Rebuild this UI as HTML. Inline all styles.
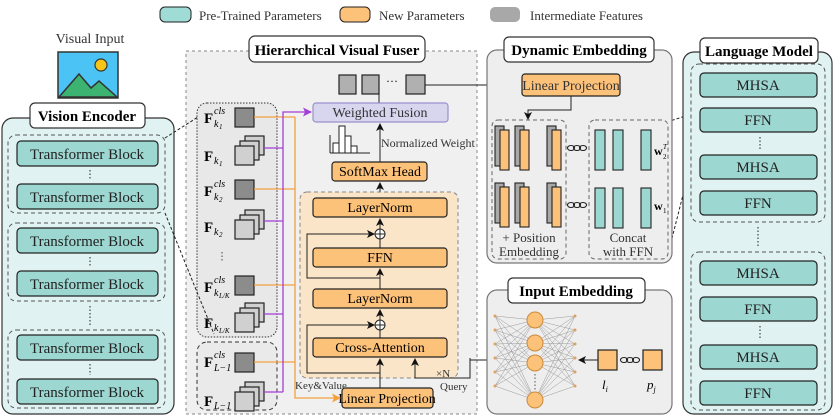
<!DOCTYPE html>
<html><head><meta charset="utf-8"><style>
html,body{margin:0;padding:0;background:#fff;}
svg{display:block;}
svg text{font-family:"Liberation Serif","Times New Roman",serif;}
</style></head><body>
<svg width="836" height="419" viewBox="0 0 836 419" xmlns="http://www.w3.org/2000/svg" font-family="Liberation Serif, serif">
<defs>
<marker id="ak" markerWidth="8" markerHeight="8" refX="7" refY="4" orient="auto" markerUnits="userSpaceOnUse"><path d="M0,0 L8,4 L0,8 L2,4 z" fill="#111"/></marker>
<marker id="ap" markerWidth="9" markerHeight="9" refX="8" refY="4.5" orient="auto" markerUnits="userSpaceOnUse"><path d="M0,0 L9,4.5 L0,9 L2,4.5 z" fill="#a23fd6"/></marker>
<marker id="ao" markerWidth="9" markerHeight="9" refX="8" refY="4.5" orient="auto" markerUnits="userSpaceOnUse"><path d="M0,0 L9,4.5 L0,9 L2,4.5 z" fill="#f4a040"/></marker>
</defs>

<!-- legend -->
<rect x="160" y="7" width="31" height="15" rx="5" fill="#9fdcd6" stroke="#222"/>
<text x="199" y="20" font-size="13" fill="#333">Pre-Trained Parameters</text>
<rect x="340" y="7" width="30" height="15" rx="5" fill="#fdc27a" stroke="#222"/>
<text x="379" y="20" font-size="13" fill="#333">New Parameters</text>
<rect x="490" y="7" width="30" height="15" rx="5" fill="#a8a8a8"/>
<text x="530" y="20" font-size="13" fill="#333">Intermediate Features</text>

<!-- Visual input -->
<text x="90" y="43" font-size="14" text-anchor="middle" fill="#333">Visual Input</text>
<rect x="58" y="52" width="60" height="46" fill="#4cc3f5" stroke="#333" stroke-width="1.5"/>
<path d="M59,97 L79,74 L91,88 L99,81 L117,97 z" fill="#3cb371" stroke="#333" stroke-width="1.5"/>
<circle cx="101" cy="65" r="6" fill="#f5c518" stroke="#333" stroke-width="1.2"/>

<!-- Vision encoder -->
<rect x="2" y="118" width="172" height="296" rx="11" fill="#e0f3f2" stroke="#333" stroke-width="1.2"/>
<rect x="30" y="103" width="115" height="25" rx="5" fill="#fff" stroke="#333" stroke-width="1.2"/>
<text x="87" y="121" font-size="15" font-weight="bold" text-anchor="middle">Vision Encoder</text>
<g stroke="#555" stroke-dasharray="4,3" fill="none">
<rect x="8" y="135" width="157" height="78" rx="8"/>
<rect x="8" y="223" width="157" height="78" rx="8"/>
<rect x="8" y="330" width="157" height="78" rx="8"/>
</g>
<g fill="#9dd7d1" stroke="#222" stroke-width="1.2">
<rect x="17" y="141" width="141" height="25" rx="4"/>
<rect x="17" y="184" width="141" height="25" rx="4"/>
<rect x="17" y="228" width="141" height="25" rx="4"/>
<rect x="17" y="271" width="141" height="25" rx="4"/>
<rect x="17" y="335" width="141" height="25" rx="4"/>
<rect x="17" y="379" width="141" height="25" rx="4"/>
</g>
<g font-size="15" text-anchor="middle" fill="#222">
<text x="87" y="159">Transformer Block</text>
<text x="87" y="202">Transformer Block</text>
<text x="87" y="246">Transformer Block</text>
<text x="87" y="289">Transformer Block</text>
<text x="87" y="353">Transformer Block</text>
<text x="87" y="397">Transformer Block</text>
</g>
<g stroke="#444" stroke-dasharray="1.5,2" stroke-width="1.2">
<line x1="90" y1="170" x2="90" y2="180"/><line x1="90" y1="257" x2="90" y2="267"/>
<line x1="90" y1="306" x2="90" y2="325"/><line x1="90" y1="364" x2="90" y2="375"/>
</g>

<!-- HVF -->
<rect x="186" y="51" width="291" height="363" fill="#f0f0f0" stroke="#888" stroke-dasharray="3,3"/>
<rect x="249" y="36" width="176" height="26" rx="6" fill="#fff" stroke="#333" stroke-width="1.2"/>
<text x="337" y="55" font-size="15" font-weight="bold" text-anchor="middle">Hierarchical Visual Fuser</text>
<g fill="#b0b0b0" stroke="#222" stroke-width="1.2">
<rect x="339" y="75" width="17" height="19"/><rect x="362" y="75" width="17" height="19"/><rect x="406" y="75" width="19" height="19"/>
</g>
<text x="392" y="85" font-size="12" text-anchor="middle">···</text>
<line x1="379" y1="94" x2="379" y2="103" stroke="#222"/>
<line x1="425" y1="85" x2="520" y2="85" stroke="#222" marker-end="url(#ak)"/>
<rect x="313" y="103" width="135" height="19" rx="3" fill="#d8d5ef" stroke="#9a90cc" stroke-width="1.2"/>
<text x="380" y="117" font-size="14" text-anchor="middle" fill="#333">Weighted Fusion</text>
<!-- histogram -->
<g fill="#fff" stroke="#222" stroke-width="1">
<rect x="333" y="143" width="6" height="10"/><rect x="339" y="126" width="6" height="27"/><rect x="345" y="136" width="6" height="17"/><rect x="351" y="146" width="6" height="7"/>
</g>
<line x1="330" y1="153" x2="370" y2="153" stroke="#222"/><line x1="330" y1="135" x2="330" y2="153" stroke="#222"/>
<text x="381" y="147" font-size="12" fill="#333">Normalized Weight</text>
<line x1="380" y1="162" x2="380" y2="124" stroke="#222" marker-end="url(#ak)"/>
<rect x="332" y="162" width="95" height="19" rx="3" fill="#fdc27a" stroke="#222" stroke-width="1.2"/>
<text x="380" y="176" font-size="14" text-anchor="middle">SoftMax Head</text>
<line x1="380" y1="198" x2="380" y2="183" stroke="#222" marker-end="url(#ak)"/>
<rect x="300" y="192" width="158" height="186" rx="7" fill="#fbe5c8" stroke="#888" stroke-dasharray="4,3"/>
<g fill="#fdc27a" stroke="#222" stroke-width="1.2">
<rect x="313" y="198" width="134" height="19" rx="3"/>
<rect x="313" y="248" width="134" height="19" rx="3"/>
<rect x="313" y="289" width="134" height="19" rx="3"/>
<rect x="313" y="338" width="134" height="19" rx="3"/>
</g>
<g font-size="14" text-anchor="middle">
<text x="380" y="212">LayerNorm</text><text x="380" y="262">FFN</text>
<text x="380" y="303">LayerNorm</text><text x="380" y="352">Cross-Attention</text>
</g>
<g stroke="#222" fill="none">
<line x1="380" y1="229" x2="380" y2="219" marker-end="url(#ak)"/>
<line x1="380" y1="248" x2="380" y2="239"/>
<line x1="380" y1="289" x2="380" y2="269" marker-end="url(#ak)"/>
<line x1="380" y1="320" x2="380" y2="310" marker-end="url(#ak)"/>
<line x1="380" y1="338" x2="380" y2="330"/>
<polyline points="380,278 307,278 307,234 374,234" marker-end="url(#ak)"/>
<polyline points="380,373 307,373 307,325 374,325" marker-end="url(#ak)"/>
<line x1="380" y1="388" x2="380" y2="359" marker-end="url(#ak)"/>
<polyline points="470,358 470,378 415,378 415,359" marker-end="url(#ak)"/>
<polyline points="470,360 484,360 490,360"/>
</g>
<circle cx="380" cy="234" r="5" fill="#fff" stroke="#222"/><path d="M375,234h10M380,229v10" stroke="#222"/>
<circle cx="380" cy="325" r="5" fill="#fff" stroke="#222"/><path d="M375,325h10M380,320v10" stroke="#222"/>
<text x="436" y="377" font-size="11" fill="#333">×N</text>
<text x="440" y="390" font-size="11" fill="#333">Query</text>
<text x="295" y="389" font-size="11" fill="#333">Key&amp;Value</text>
<rect x="342" y="388" width="91" height="20" rx="3" fill="#fdc27a" stroke="#222" stroke-width="1.2"/>
<text x="387" y="403" font-size="14" text-anchor="middle">Linear Projection</text>

<!-- feature groups -->
<rect x="197" y="103" width="80" height="234" rx="10" fill="#e8e8e8" stroke="#333" stroke-dasharray="1.5,1.5"/>
<rect x="197" y="342" width="80" height="68" rx="10" fill="#eaeaea" stroke="#333" stroke-dasharray="4,3"/>
<g fill="#8c8c8c" stroke="#222" stroke-width="1.2">
<rect x="235" y="108" width="19" height="19"/><rect x="235" y="180" width="19" height="19"/>
<rect x="235" y="276" width="19" height="19"/><rect x="235" y="353" width="19" height="19"/>
</g>
<g fill="#d0d0d0" stroke="#222" stroke-width="1.2">
<rect x="245" y="136" width="19" height="19"/><rect x="240" y="141" width="19" height="19"/><rect x="235" y="146" width="19" height="19"/>
<rect x="245" y="210" width="19" height="19"/><rect x="240" y="215" width="19" height="19"/><rect x="235" y="220" width="19" height="19"/>
<rect x="245" y="303" width="19" height="19"/><rect x="240" y="308" width="19" height="19"/><rect x="235" y="313" width="19" height="19"/>
<rect x="245" y="382" width="19" height="19"/><rect x="240" y="387" width="19" height="19"/><rect x="235" y="392" width="19" height="19"/>
</g>
<g font-size="15" font-weight="bold">
<text x="204" y="123">F</text><text x="204" y="161">F</text><text x="204" y="196">F</text><text x="204" y="232">F</text>
<text x="204" y="292">F</text><text x="204" y="328">F</text><text x="204" y="367">F</text><text x="204" y="406">F</text>
</g>
<g font-size="10" font-style="italic">
<text x="214" y="114">cls</text><text x="214" y="127">k</text><text x="219" y="129" font-size="7">1</text>
<text x="214" y="164">k</text><text x="219" y="166" font-size="7">1</text>
<text x="214" y="187">cls</text><text x="214" y="200">k</text><text x="219" y="202" font-size="7">2</text>
<text x="214" y="235">k</text><text x="219" y="237" font-size="7">2</text>
<text x="214" y="283">cls</text><text x="214" y="296">k</text><text x="219" y="298" font-size="7">L/K</text>
<text x="214" y="331">k</text><text x="219" y="333" font-size="7">L/K</text>
<text x="214" y="358">cls</text><text x="214" y="371">L−1</text>
<text x="214" y="409">L−1</text>
</g>
<line x1="222" y1="252" x2="222" y2="262" stroke="#444" stroke-dasharray="1.5,2"/>
<g stroke="#f4a040" stroke-width="1.3" fill="none">
<line x1="254" y1="117" x2="295" y2="117"/><line x1="254" y1="189" x2="295" y2="189"/>
<line x1="254" y1="285" x2="295" y2="285"/><line x1="254" y1="362" x2="295" y2="362"/>
<polyline points="295,117 295,398 340,398" marker-end="url(#ao)"/>
</g>
<g stroke="#a23fd6" stroke-width="1.3" fill="none">
<line x1="264" y1="148" x2="283" y2="148"/><line x1="264" y1="221" x2="283" y2="221"/>
<line x1="264" y1="314" x2="283" y2="314"/><line x1="264" y1="392" x2="283" y2="392"/>
<polyline points="283,392 283,112 311,112" marker-end="url(#ap)"/>
</g>

<!-- connectors -->
<g stroke="#222" stroke-dasharray="3,2" fill="none">
<line x1="165" y1="138" x2="198" y2="117"/><line x1="165" y1="213" x2="214" y2="334"/>
<line x1="667" y1="122" x2="701" y2="111"/><line x1="667" y1="258" x2="701" y2="124"/>
</g>

<!-- Dynamic embedding -->
<rect x="487" y="50" width="185" height="213" rx="10" fill="#eeeeee" stroke="#777" stroke-width="1.2"/>
<rect x="504" y="37" width="150" height="25" rx="5" fill="#fff" stroke="#333" stroke-width="1.2"/>
<text x="579" y="55" font-size="15" font-weight="bold" text-anchor="middle">Dynamic Embedding</text>
<rect x="522" y="74" width="98" height="22" rx="3" fill="#fdc27a" stroke="#222" stroke-width="1.2"/>
<text x="571" y="90" font-size="14" text-anchor="middle" fill="#333">Linear Projection</text>
<polyline points="571,96 571,110 528,110 528,119" fill="none" stroke="#222" marker-end="url(#ak)"/>
<rect x="492" y="120" width="74" height="139" rx="6" fill="none" stroke="#666" stroke-dasharray="4,3"/>
<rect x="589" y="120" width="79" height="139" rx="6" fill="none" stroke="#666" stroke-dasharray="4,3"/>
<g stroke="#222" stroke-width="1.1">
<rect x="495" y="126" width="9" height="40" fill="#a8a8a8"/><rect x="500" y="130" width="9" height="40" fill="#fdc27a"/>
<rect x="515" y="126" width="9" height="40" fill="#a8a8a8"/><rect x="520" y="130" width="9" height="40" fill="#fdc27a"/>
<rect x="547" y="126" width="9" height="40" fill="#a8a8a8"/><rect x="552" y="130" width="9" height="40" fill="#fdc27a"/>
<rect x="495" y="183" width="9" height="40" fill="#a8a8a8"/><rect x="500" y="187" width="9" height="40" fill="#fdc27a"/>
<rect x="515" y="183" width="9" height="40" fill="#a8a8a8"/><rect x="520" y="187" width="9" height="40" fill="#fdc27a"/>
<rect x="547" y="183" width="9" height="40" fill="#a8a8a8"/><rect x="552" y="187" width="9" height="40" fill="#fdc27a"/>
<rect x="595" y="130" width="10" height="40" fill="#9dd7d1"/><rect x="613" y="130" width="10" height="40" fill="#9dd7d1"/><rect x="641" y="130" width="10" height="40" fill="#9dd7d1"/>
<rect x="595" y="188" width="10" height="40" fill="#9dd7d1"/><rect x="613" y="188" width="10" height="40" fill="#9dd7d1"/><rect x="641" y="188" width="10" height="40" fill="#9dd7d1"/>
</g>
<g fill="none" stroke="#222" stroke-width="1.1">
<ellipse cx="571" cy="148" rx="3.5" ry="2.5"/><ellipse cx="577" cy="148" rx="3.5" ry="2.5"/><ellipse cx="583" cy="148" rx="3.5" ry="2.5"/>
<ellipse cx="571" cy="205" rx="3.5" ry="2.5"/><ellipse cx="577" cy="205" rx="3.5" ry="2.5"/><ellipse cx="583" cy="205" rx="3.5" ry="2.5"/>
</g>
<text x="654" y="155" font-size="12" font-weight="bold">w</text><text x="663" y="149" font-size="7" font-style="italic">T</text><text x="663" y="159" font-size="7">2</text>
<text x="654" y="210" font-size="12" font-weight="bold">w</text><text x="663" y="213" font-size="7">1</text>
<g font-size="13" text-anchor="middle" fill="#333">
<text x="529" y="242">+ Position</text><text x="529" y="256">Embedding</text>
<text x="628" y="242">Concat</text><text x="628" y="256">with FFN</text>
</g>

<!-- Input embedding -->
<rect x="487" y="290" width="185" height="124" rx="10" fill="#eeeeee" stroke="#777" stroke-width="1.2"/>
<rect x="508" y="278" width="137" height="25" rx="5" fill="#fff" stroke="#333" stroke-width="1.2"/>
<text x="576" y="296" font-size="15" font-weight="bold" text-anchor="middle">Input Embedding</text>
<g stroke="#999" stroke-width="0.5">
<path d="M495,316L535,320M495,316L535,343M495,316L535,363M495,316L535,400M495,330L535,320M495,330L535,343M495,330L535,363M495,330L535,400M495,344L535,320M495,344L535,343M495,344L535,363M495,344L535,400M495,358L535,320M495,358L535,343M495,358L535,363M495,358L535,400M495,372L535,320M495,372L535,343M495,372L535,363M495,372L535,400M495,386L535,320M495,386L535,343M495,386L535,363M495,386L535,400"/>
<path d="M575,316L535,320M575,316L535,343M575,316L535,363M575,316L535,400M575,330L535,320M575,330L535,343M575,330L535,363M575,330L535,400M575,344L535,320M575,344L535,343M575,344L535,363M575,344L535,400M575,358L535,320M575,358L535,343M575,358L535,363M575,358L535,400M575,372L535,320M575,372L535,343M575,372L535,363M575,372L535,400M575,386L535,320M575,386L535,343M575,386L535,363M575,386L535,400"/>
</g>
<g fill="#fdc27a" stroke="#c98a3a">
<circle cx="535" cy="320" r="8"/><circle cx="535" cy="343" r="8"/><circle cx="535" cy="363" r="8"/><circle cx="535" cy="400" r="8"/>
</g>
<line x1="535" y1="374" x2="535" y2="390" stroke="#555" stroke-dasharray="1.5,2"/>
<g fill="#e0a060"><circle cx="495" cy="316" r="1.5"/><circle cx="495" cy="330" r="1.5"/><circle cx="495" cy="344" r="1.5"/><circle cx="495" cy="358" r="1.5"/><circle cx="495" cy="372" r="1.5"/><circle cx="495" cy="386" r="1.5"/>
<circle cx="575" cy="316" r="1.5"/><circle cx="575" cy="330" r="1.5"/><circle cx="575" cy="344" r="1.5"/><circle cx="575" cy="358" r="1.5"/><circle cx="575" cy="372" r="1.5"/><circle cx="575" cy="386" r="1.5"/></g>
<rect x="598" y="350" width="19" height="20" fill="#fdc27a" stroke="#222" stroke-width="1.2"/>
<rect x="643" y="350" width="19" height="20" fill="#fdc27a" stroke="#222" stroke-width="1.2"/>
<g fill="none" stroke="#222" stroke-width="1.1"><ellipse cx="624" cy="360" rx="3.5" ry="2.5"/><ellipse cx="630" cy="360" rx="3.5" ry="2.5"/><ellipse cx="636" cy="360" rx="3.5" ry="2.5"/></g>
<line x1="598" y1="360" x2="579" y2="360" stroke="#222" marker-end="url(#ak)"/>
<text x="602" y="389" font-size="13" font-style="italic">l<tspan font-size="8" dy="3">i</tspan></text>
<text x="647" y="389" font-size="13" font-style="italic">p<tspan font-size="8" dy="3">j</tspan></text>

<!-- Language model -->
<rect x="683" y="52" width="149" height="362" rx="11" fill="#e0f3f2" stroke="#333" stroke-width="1.2"/>
<rect x="700" y="38" width="118" height="25" rx="5" fill="#fff" stroke="#333" stroke-width="1.2"/>
<text x="759" y="56" font-size="15" font-weight="bold" text-anchor="middle">Language Model</text>
<g stroke="#555" stroke-dasharray="4,3" fill="none">
<rect x="691" y="64" width="134" height="158" rx="8"/><rect x="691" y="252" width="134" height="158" rx="8"/>
</g>
<g fill="#9dd7d1" stroke="#222" stroke-width="1.2">
<rect x="700" y="73" width="117" height="24" rx="4"/><rect x="700" y="108" width="117" height="24" rx="4"/>
<rect x="700" y="155" width="117" height="24" rx="4"/><rect x="700" y="191" width="117" height="24" rx="4"/>
<rect x="700" y="261" width="117" height="24" rx="4"/><rect x="700" y="297" width="117" height="24" rx="4"/>
<rect x="700" y="345" width="117" height="24" rx="4"/><rect x="700" y="381" width="117" height="24" rx="4"/>
</g>
<g font-size="15" text-anchor="middle" fill="#222">
<text x="758" y="90">MHSA</text><text x="758" y="125">FFN</text><text x="758" y="172">MHSA</text><text x="758" y="208">FFN</text>
<text x="758" y="278">MHSA</text><text x="758" y="314">FFN</text><text x="758" y="362">MHSA</text><text x="758" y="398">FFN</text>
</g>
<g stroke="#444" stroke-dasharray="1.5,2" stroke-width="1.2">
<line x1="760" y1="137" x2="760" y2="150"/><line x1="758" y1="227" x2="758" y2="248"/><line x1="760" y1="326" x2="760" y2="340"/>
</g>
</svg>
</body></html>
